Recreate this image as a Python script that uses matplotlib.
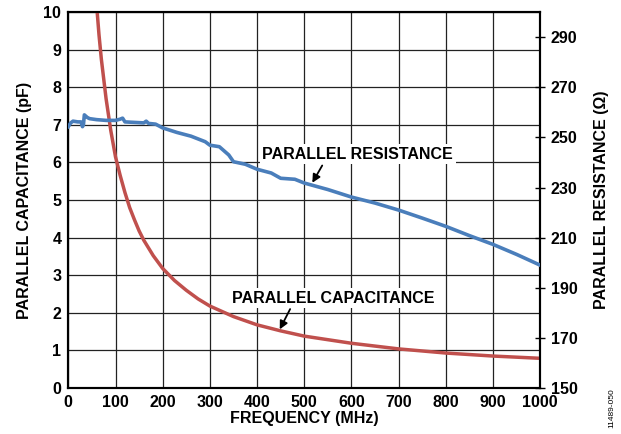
import matplotlib.pyplot as plt

plt.rcParams['font.family'] = ['Liberation Sans', 'DejaVu Sans']

# parallel capacitance (pF), left axis
cap_freq = [58, 65, 70, 80, 90, 100, 110, 120, 130, 140, 150, 160, 180, 200,
            225, 250, 275, 300, 350, 400, 450, 500, 600, 700, 800, 900, 1000]
cap_pf = [10.5, 9.4, 8.75, 7.7, 6.85, 6.15, 5.65, 5.2, 4.8, 4.48, 4.18, 3.93,
          3.52, 3.18, 2.86, 2.6, 2.37, 2.18, 1.9, 1.68, 1.52, 1.38, 1.19, 1.04,
          0.93, 0.85, 0.79]

# parallel resistance (ohm), right axis
res_freq = [0, 5, 10, 20, 27, 30, 32, 34, 40, 45, 60, 80, 100, 110, 115, 120,
            140, 160, 165, 170, 185, 200, 230, 260, 290, 300, 320, 340, 350,
            375, 400, 430, 450, 480, 500, 550, 600, 650, 700, 750, 800, 850,
            900, 950, 1000]
res_ohm = [254.3, 255.8, 256.5, 256.2, 256.2, 254.3, 255.0, 259.0, 258.0, 257.5,
           257.1, 256.8, 256.8, 257.3, 257.7, 256.2, 256.0, 255.8, 256.5, 255.6,
           255.3, 253.8, 252.0, 250.5, 248.3, 246.9, 246.3, 243.0, 240.3, 239.3,
           237.3, 235.8, 233.7, 233.3, 231.8, 229.2, 226.2, 223.8, 221.0, 217.8,
           214.5, 210.8, 207.3, 203.3, 199.0]

fig = plt.figure(figsize=(6.21, 4.34), dpi=100)
ax = fig.add_axes([0.110, 0.106, 0.760, 0.866])
ax2 = ax.twinx()

ax.plot(cap_freq, cap_pf, color='#c0504d', lw=2.5, zorder=3)
ax2.plot(res_freq, res_ohm, color='#4a7ebb', lw=2.6, zorder=3)

fs = 11.5
ax.set_xlim(0, 1000)
ax.set_ylim(0, 10)
ax.set_xticks(range(0, 1001, 100))
ax.set_yticks(range(0, 11))
ax.grid(True, color='#222222', lw=0.9)
ax.tick_params(length=0, labelsize=fs, pad=5)
for lab in ax.get_xticklabels() + ax.get_yticklabels():
    lab.set_fontweight('bold')

ax2.set_ylim(150, 300)
ax2.set_yticks(range(150, 300, 20))
ax2.tick_params(direction='inout', length=7, width=1, labelsize=fs, pad=4)
for lab in ax2.get_yticklabels():
    lab.set_fontweight('bold')

for a in (ax, ax2):
    for s in a.spines.values():
        s.set_linewidth(1.5)

ax.set_xlabel('FREQUENCY (MHz)', fontsize=fs, fontweight='bold', labelpad=1)
ax.set_ylabel('PARALLEL CAPACITANCE (pF)', fontsize=fs, fontweight='bold', labelpad=8)
ax2.set_ylabel('PARALLEL RESISTANCE (Ω)', fontsize=fs, fontweight='bold', labelpad=12)

box = dict(facecolor='white', edgecolor='none', pad=2)
ax.text(613, 6.22, 'PARALLEL RESISTANCE', ha='center', va='center',
        fontsize=fs, fontweight='bold', bbox=box, zorder=5)
ax.text(562, 2.39, 'PARALLEL CAPACITANCE', ha='center', va='center',
        fontsize=fs, fontweight='bold', bbox=box, zorder=5)
arrow = dict(arrowstyle='-|>', color='black', lw=1.3, mutation_scale=12, shrinkA=0, shrinkB=0)
ax2.annotate('', xy=(517, 150 + 5.46 * 15), xytext=(538, 150 + 5.92 * 15), arrowprops=arrow)
ax2.annotate('', xy=(448, 150 + 1.56 * 15), xytext=(470, 150 + 2.1 * 15), arrowprops=arrow)

fig.text(0.985, 0.06, '11489-050', rotation=90, fontsize=6, ha='center', va='center')

fig.savefig('out.png')
